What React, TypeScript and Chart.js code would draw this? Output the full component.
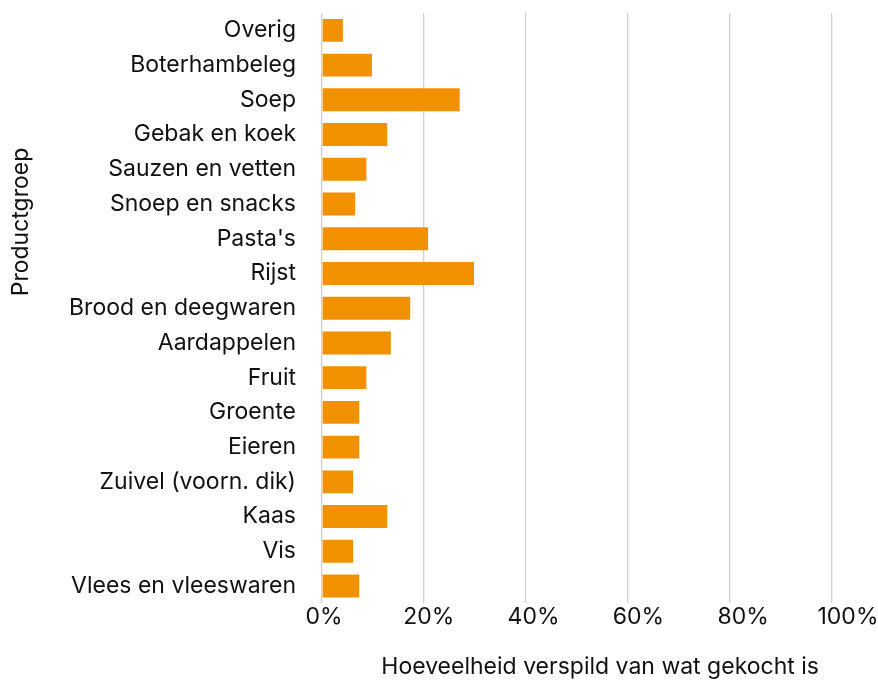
import React, { useEffect, useRef } from "react";
import { Chart, registerables } from "chart.js";

Chart.register(...registerables);

const categories = [
  "Overig",
  "Boterhambeleg",
  "Soep",
  "Gebak en koek",
  "Sauzen en vetten",
  "Snoep en snacks",
  "Pasta's",
  "Rijst",
  "Brood en deegwaren",
  "Aardappelen",
  "Fruit",
  "Groente",
  "Eieren",
  "Zuivel (voorn. dik)",
  "Kaas",
  "Vis",
  "Vlees en vleeswaren",
];

const wastedPercent = [4.1, 9.8, 27, 12.8, 8.7, 6.5, 20.8, 29.8, 17.3, 13.5, 8.7, 7.3, 7.3, 6.1, 12.8, 6.1, 7.3];

const tickValues = [0, 20, 40, 60, 80, 100];
const xTitle = "Hoeveelheid verspild van wat gekocht is";
const yTitle = "Productgroep";

const FONT = "Inter, 'Liberation Sans', sans-serif";
const FS = 23;
const TEXT = "#111111";

export default function App() {
  const ref = useRef<HTMLCanvasElement | null>(null);

  useEffect(() => {
    if (!ref.current) return;
    const titlePlugin = {
      id: "axisTitles",
      afterDraw(chart: any) {
        const ctx = chart.ctx;
        const area = chart.chartArea;
        ctx.save();
        ctx.fillStyle = TEXT;
        ctx.font = `${FS}px ${FONT}`;
        ctx.textAlign = "center";
        ctx.textBaseline = "middle";
        ctx.save();
        ctx.translate(21, area.top + (area.bottom - area.top) * 0.354);
        ctx.rotate(-Math.PI / 2);
        ctx.fillText(yTitle, 0, 0);
        ctx.restore();
        const lx = chart.scales.xl;
        ctx.fillText(xTitle, lx.getPixelForValue(52.7), 667);
        ctx.restore();
      },
    };

    const chart = new Chart(ref.current, {
      type: "bar",
      data: {
        labels: categories,
        datasets: [
          {
            data: wastedPercent,
            backgroundColor: "#F29100",
            barPercentage: 0.66,
            categoryPercentage: 1,
          },
        ],
      },
      options: {
        indexAxis: "y",
        responsive: false,
        animation: false,
        layout: { padding: { left: 0, right: 46, top: 13, bottom: 49 } },
        plugins: { legend: { display: false }, tooltip: { enabled: false } },
        scales: {
          x: {
            type: "linear",
            min: 0,
            max: 100,
            position: "bottom",
            border: { display: false },
            grid: { color: "#d0d0d0", lineWidth: 1.3, drawTicks: false },
            ticks: { display: false, stepSize: 20 },
            afterFit(scale: any) {
              scale.paddingLeft = 0;
              scale.paddingRight = 0;
            },
          },
          xl: {
            type: "linear",
            axis: "x",
            position: "bottom",
            min: -0.38,
            max: 96.95,
            border: { display: false },
            grid: { display: false, drawTicks: false },
            afterBuildTicks(scale: any) {
              scale.ticks = tickValues.map((v) => ({ value: v }));
            },
            afterFit(scale: any) {
              scale.paddingLeft = 0;
              scale.paddingRight = 0;
            },
            ticks: {
              autoSkip: false,
              padding: 0,
              color: TEXT,
              font: { family: FONT, size: FS },
              callback: (v: any) => `${v}%`,
            },
          },
          y: {
            type: "category",
            border: { display: false },
            grid: { display: false, drawTicks: false },
            afterFit(scale: any) {
              scale.width = 322;
              scale.paddingTop = 0;
              scale.paddingBottom = 0;
            },
            ticks: {
              padding: 26,
              color: TEXT,
              autoSkip: false,
              font: { family: FONT, size: FS },
            },
          },
        },
      },
      plugins: [titlePlugin],
    } as any);
    return () => chart.destroy();
  }, []);

  return (
    <div style={{ position: "fixed", left: 0, top: 0, width: 878, height: 680, background: "#fff" }}>
      <canvas ref={ref} width={878} height={680} style={{ width: 878, height: 680 }} />
    </div>
  );
}
